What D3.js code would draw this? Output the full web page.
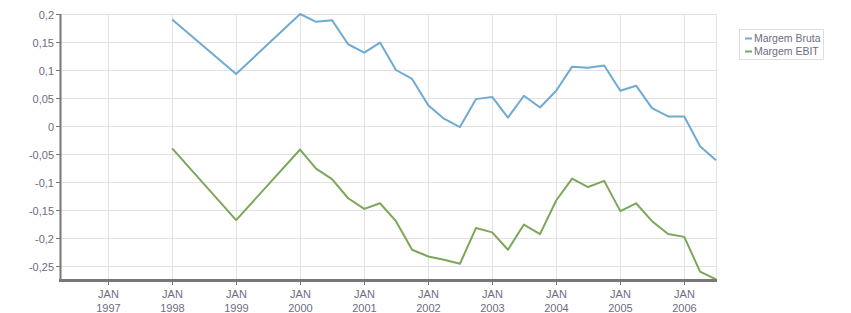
<!DOCTYPE html>
<html>
<head>
<meta charset="utf-8">
<script src="https://cdn.jsdelivr.net/npm/d3@7"></script>
<style>
  body { margin: 0; background: #fff; }
  text { font-family: "Liberation Sans", Arial, sans-serif; }
</style>
</head>
<body>
<script>
// quarterly series, with only yearly points before 2000
var dates = ['1998-01', '1999-01', '2000-01', '2000-04', '2000-07', '2000-10',
    '2001-01', '2001-04', '2001-07', '2001-10', '2002-01', '2002-04', '2002-07', '2002-10',
    '2003-01', '2003-04', '2003-07', '2003-10', '2004-01', '2004-04', '2004-07', '2004-10',
    '2005-01', '2005-04', '2005-07', '2005-10', '2006-01', '2006-04', '2006-07'];

var margemBruta = [0.19, 0.093, 0.2, 0.186, 0.189, 0.146,
    0.131, 0.149, 0.1, 0.084, 0.037, 0.013, -0.002, 0.048,
    0.052, 0.015, 0.054, 0.033, 0.063, 0.106, 0.104, 0.108,
    0.063, 0.072, 0.032, 0.017, 0.017, -0.036, -0.061];

var margemEbit = [-0.04, -0.168, -0.042, -0.076, -0.095, -0.129,
    -0.148, -0.138, -0.17, -0.221, -0.233, -0.239, -0.246, -0.182,
    -0.19, -0.221, -0.176, -0.193, -0.133, -0.094, -0.109, -0.098,
    -0.152, -0.138, -0.17, -0.193, -0.198, -0.26, -0.274];

var seriesNames = ['Margem Bruta', 'Margem EBIT'];
var seriesColors = ['#6faad2', '#7ca75a'];
var yTicks = [-0.25, -0.2, -0.15, -0.1, -0.05, 0, 0.05, 0.1, 0.15, 0.2];
var xTickYears = [1997, 1998, 1999, 2000, 2001, 2002, 2003, 2004, 2005, 2006];

var width = 851,
    height = 313;

var plotLeft = 60, plotRight = 716, plotTop = 14, plotBottom = 280;
var labelColor = '#6d6d7e',
    axisColor = '#777';

var parse = d3.timeParse('%Y-%m');

var x = d3.scaleTime()
    .domain([new Date(1996, 3, 1), new Date(2006, 6, 1)])
    .range([plotLeft, plotRight]);

var y = d3.scaleLinear()
    .domain([-0.275, 0.2])
    .range([plotBottom, plotTop]);

var svg = d3.select('body').append('svg')
    .attr('width', width)
    .attr('height', height);

function fmt(v) {
    return String(+v.toFixed(2)).replace('.', ',');
}

// grid
var grid = svg.append('g').attr('stroke', '#e2e2e2').attr('stroke-width', 1);
yTicks.forEach(function (t) {
    var py = Math.round(y(t)) + 0.5;
    grid.append('line')
        .attr('x1', plotLeft).attr('x2', plotRight)
        .attr('y1', py).attr('y2', py);
});
xTickYears.forEach(function (yr) {
    var px = Math.round(x(new Date(yr, 0, 1))) + 0.5;
    grid.append('line')
        .attr('x1', px).attr('x2', px)
        .attr('y1', plotTop).attr('y2', plotBottom);
});
grid.append('line')
    .attr('x1', plotRight + 0.5).attr('x2', plotRight + 0.5)
    .attr('y1', plotTop).attr('y2', plotBottom);

// lines
var line = d3.line()
    .x(function (d) { return x(d.date); })
    .y(function (d) { return y(d.value); });

[margemBruta, margemEbit].forEach(function (vals, k) {
    var pts = vals.map(function (v, i) {
        return { date: parse(dates[i]), value: v };
    });
    svg.append('path')
        .datum(pts)
        .attr('fill', 'none')
        .attr('stroke', seriesColors[k])
        .attr('stroke-width', 2)
        .attr('stroke-linejoin', 'round')
        .attr('d', line);
});

// y axis
svg.append('line')
    .attr('x1', plotLeft + 0.5).attr('x2', plotLeft + 0.5)
    .attr('y1', plotTop).attr('y2', plotBottom + 1)
    .attr('stroke', axisColor).attr('stroke-width', 2);

yTicks.forEach(function (t) {
    var py = Math.round(y(t)) + 0.5;
    svg.append('line')
        .attr('x1', plotLeft - 4).attr('x2', plotLeft)
        .attr('y1', py).attr('y2', py)
        .attr('stroke', axisColor);
    svg.append('text')
        .attr('x', plotLeft - 6)
        .attr('y', py + 4)
        .attr('text-anchor', 'end')
        .attr('font-size', 11)
        .attr('fill', labelColor)
        .text(fmt(t));
});

// x axis
svg.append('line')
    .attr('x1', plotLeft - 1).attr('x2', plotRight + 1)
    .attr('y1', plotBottom + 0.5).attr('y2', plotBottom + 0.5)
    .attr('stroke', axisColor).attr('stroke-width', 3);

xTickYears.forEach(function (yr) {
    var px = Math.round(x(new Date(yr, 0, 1))) + 0.5;
    svg.append('line')
        .attr('x1', px).attr('x2', px)
        .attr('y1', plotBottom).attr('y2', plotBottom + 5)
        .attr('stroke', axisColor);
    var t = svg.append('text')
        .attr('text-anchor', 'middle')
        .attr('font-size', 11)
        .attr('fill', labelColor);
    t.append('tspan').attr('x', px).attr('y', 298).text('JAN');
    t.append('tspan').attr('x', px).attr('y', 312).text(yr);
});

// legend
var legend = svg.append('g');
legend.append('rect')
    .attr('x', 739.5).attr('y', 29.5)
    .attr('width', 84).attr('height', 30)
    .attr('fill', '#fff')
    .attr('stroke', '#dedede');

seriesNames.forEach(function (name, k) {
    var ly = 38 + k * 13;
    legend.append('line')
        .attr('x1', 745).attr('x2', 752)
        .attr('y1', ly + 0.5).attr('y2', ly + 0.5)
        .attr('stroke', seriesColors[k])
        .attr('stroke-width', 2);
    legend.append('text')
        .attr('x', 754)
        .attr('y', ly + 4)
        .attr('font-size', 10.5)
        .attr('fill', labelColor)
        .text(name);
});
</script>
</body>
</html>
